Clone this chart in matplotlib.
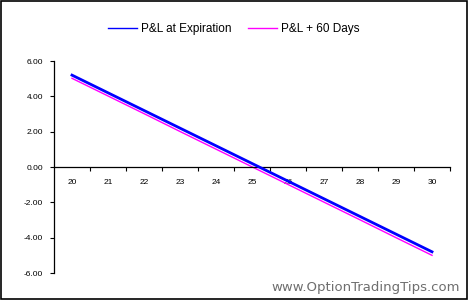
import matplotlib
matplotlib.use("Agg")
import matplotlib.pyplot as plt
from matplotlib.lines import Line2D
from matplotlib.patches import Rectangle

# underlying price at each point (category axis)
prices = [20, 21, 22, 23, 24, 25, 26, 27, 28, 29, 30]
pl_expiration = [5.20, 4.20, 3.20, 2.20, 1.20, 0.20, -0.80, -1.80, -2.80, -3.80, -4.80]
pl_60days = [5.02, 4.02, 3.02, 2.01, 1.01, 0.01, -0.99, -1.99, -2.99, -4.00, -5.00]
yticks = [6, 4, 2, 0, -2, -4, -6]

plt.rcParams["font.family"] = ["Liberation Sans", "DejaVu Sans"]

fig = plt.figure(figsize=(4.68, 3.0), dpi=100)
ax = fig.add_axes([54 / 468, 27 / 300, 396 / 468, 212 / 300])

idx = list(range(len(prices)))
ax.plot(idx, pl_expiration, color="#0000ff", lw=2.0, zorder=3)
ax.plot(idx, pl_60days, color="#ff00ff", lw=1.0, zorder=2)

ax.set_xlim(-0.5, len(prices) - 0.5)
ax.set_ylim(-6, 6)
ax.spines["top"].set_visible(False)
ax.spines["right"].set_visible(False)
ax.spines["bottom"].set_position(("data", 0))
ax.spines["left"].set_linewidth(0.9)
ax.spines["bottom"].set_linewidth(0.9)

ax.set_yticks(yticks)
ax.set_yticklabels([f"{v:.2f}" for v in yticks], fontsize=6)
ax.tick_params(axis="y", direction="out", length=3, width=0.8, pad=5)

ax.set_xticks(idx)
ax.set_xticklabels([str(p) for p in prices], fontsize=6)
ax.set_xticks([i + 0.5 for i in idx], minor=True)
ax.tick_params(axis="x", which="major", length=0, pad=9)
ax.tick_params(axis="x", which="minor", direction="out", length=3, width=0.8)

# legend uses thin lines like the original
handles = [Line2D([], [], color="#0000ff", lw=1.0), Line2D([], [], color="#ff00ff", lw=1.0)]
fig.legend(handles=handles, labels=["P&L at Expiration", "P&L + 60 Days"], loc="center",
           bbox_to_anchor=(0.5, 1 - 29 / 300), ncol=2, frameon=False, fontsize=8.5,
           handlelength=2.4, handletextpad=0.4, columnspacing=1.4)

fig.text(460 / 468, 1 - 287 / 300, "www.OptionTradingTips.com", ha="right", va="center",
         fontsize=9.5, color="#6e6e6e", family="DejaVu Sans")

fig.patches.append(Rectangle((0.002, 0.003), 0.995, 0.993, transform=fig.transFigure,
                             fill=False, edgecolor="black", lw=1.2))

fig.savefig("out.png", dpi=100)
